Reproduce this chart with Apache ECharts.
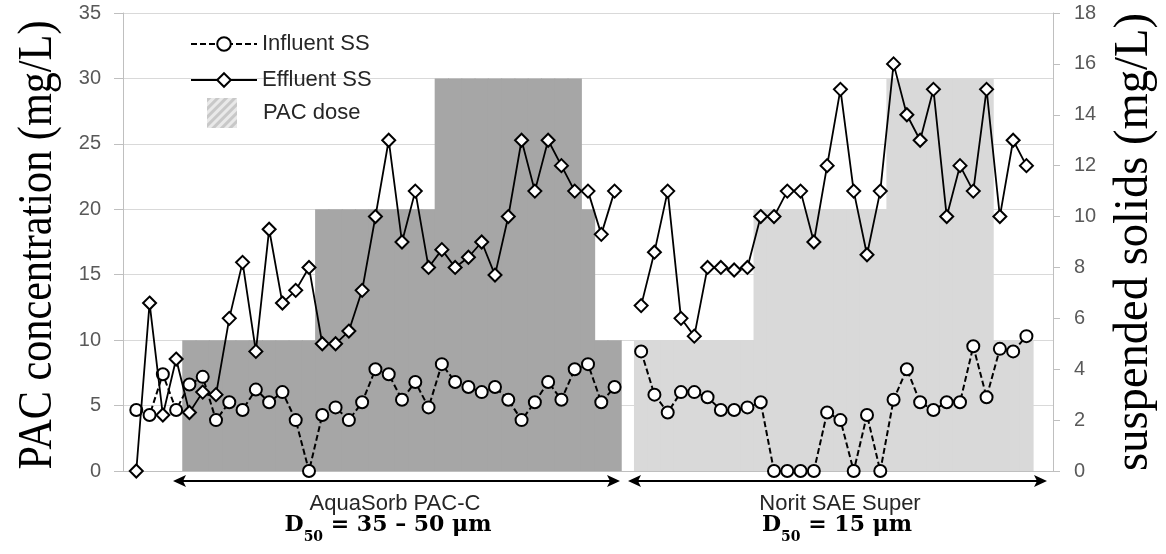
<!DOCTYPE html>
<html>
<head>
<meta charset="utf-8">
<script src="https://cdn.jsdelivr.net/npm/echarts@6/dist/echarts.min.js"></script>
<style>
html,body{margin:0;padding:0;background:#fff;}
#chart{width:1166px;height:554px;}
</style>
</head>
<body>
<div id="chart"></div>
<script>
// ---- data (one entry per sample, in time order; null = no sample) ----
const influentSS = [2.4,2.2,3.8,2.4,3.4,3.7,2.0,2.7,2.4,3.2,
  2.7,3.1,2.0,0,2.2,2.5,2.0,2.7,4.0,3.8,
  2.8,3.5,2.5,4.2,3.5,3.3,3.1,3.3,2.8,2.0,
  2.7,3.5,2.8,4.0,4.2,2.7,3.3,null,4.7,3.0,
  2.3,3.1,3.1,2.9,2.4,2.4,2.5,2.7,0,0,
  0,0,2.3,2.0,0,2.2,0,2.8,4.0,2.7,
  2.4,2.7,2.7,4.9,2.9,4.8,4.7,5.3];
const effluentSS = [0,6.6,2.2,4.4,2.3,3.1,3.0,6.0,8.2,4.7,
  9.5,6.6,7.1,8.0,5.0,5.0,5.5,7.1,10,13,
  9,11,8,8.7,8,8.4,9,7.7,10,13,
  11,13,12,11,11,9.3,11,null,6.5,8.6,
  11,6.0,5.3,8,8,7.9,8,10,10,11,
  11,9,12,15,11,8.5,11,16,14,13,
  15,10,12,11,15,10,13,12];
const doseAquaSorb = [null,null,null,null,10,10,10,10,10,10,
  10,10,10,10,20,20,20,20,20,20,
  20,20,20,30,30,30,30,30,30,30,
  30,30,30,30,20,10,10,null,null,null,
  null,null,null,null,null,null,null,null,null,null,
  null,null,null,null,null,null,null,null,null,null,
  null,null,null,null,null,null,null,null];
const doseNorit = [null,null,null,null,null,null,null,null,null,null,
  null,null,null,null,null,null,null,null,null,null,
  null,null,null,null,null,null,null,null,null,null,
  null,null,null,null,null,null,null,null,10,10,
  10,10,10,10,10,10,10,20,20,20,
  20,20,20,20,20,20,20,30,30,30,
  30,30,30,30,30,10,10,10];
const pacTicks = {min:0, max:35, interval:5};
const ssTicks = {min:0, max:18, interval:2};
const carbonNames = ['AquaSorb PAC-C','Norit SAE Super'];
const carbonD50 = ['35 – 50 μm','15 μm'];

// axis padding slots: one empty slot before, two after the samples
const pad = a => [null].concat(a, [null, null]);
const categories = pad(influentSS.map((_, i) => 'S' + (i + 1))).map(v => v == null ? '' : v);

const chart = echarts.init(document.getElementById('chart'), null, {renderer:'canvas'});

const sans = 'Liberation Sans';
const serif = 'Liberation Serif';

function arrow(x1, x2, y) {
  return [
    {type:'line', shape:{x1:x1+8, y1:y, x2:x2-8, y2:y}, style:{stroke:'#000', lineWidth:2}},
    {type:'polygon', shape:{points:[[x1,y],[x1+13,y-6],[x1+10,y],[x1+13,y+6]]}, style:{fill:'#000'}},
    {type:'polygon', shape:{points:[[x2,y],[x2-13,y-6],[x2-10,y],[x2-13,y+6]]}, style:{fill:'#000'}}
  ];
}
function d50Label(x, y, value) {
  return {type:'text', x:x, y:y, style:{
    text:'{m|D}{s|50}{m| = ' + value + '}',
    rich:{
      m:{fontFamily:'DejaVu Serif', fontWeight:'bold', fontSize:22, lineHeight:26, verticalAlign:'top', fill:'#000'},
      s:{fontFamily:'DejaVu Serif', fontWeight:'bold', fontSize:14, lineHeight:14, verticalAlign:'top', padding:[16,0,0,0], fill:'#000'}
    },
    align:'center', verticalAlign:'top', textAlign:'center', textVerticalAlign:'top'
  }};
}
function centeredText(x, y, text, font, size, color) {
  return {type:'text', x:x, y:y, style:{text:text, fontFamily:font, fontSize:size, fill:color,
    align:'center', verticalAlign:'middle', textAlign:'center', textVerticalAlign:'middle'}};
}

const option = {
  animation:false,
  backgroundColor:'#fff',
  grid:{left:123, right:113, top:13, bottom:83, containLabel:false, outerBoundsMode:'none'},
  legend:[
    {data:['Influent SS','Effluent SS'], orient:'vertical', left:185, top:28,
     itemWidth:66, itemHeight:17, itemGap:14, selectedMode:false,
     textStyle:{fontSize:22, fontFamily:sans, color:'#262626'}},
    {data:[{name:'PAC dose', icon:'path://M0 0H10V10H0Z',
       itemStyle:{color:'#C8C8C8', decal:{symbol:'rect', dashArrayX:[1,0], dashArrayY:[3,3], rotation:-Math.PI/4, color:'rgba(255,255,255,0.6)'}}}],
     orient:'vertical', left:202, top:93, itemWidth:72, itemHeight:30, selectedMode:false,
     textStyle:{fontSize:22, fontFamily:sans, color:'#262626'}}
  ],
  xAxis:{type:'category', data:categories, boundaryGap:false,
    axisLine:{show:true, lineStyle:{color:'#BFBFBF', width:1}},
    axisTick:{show:false}, axisLabel:{show:false}, splitLine:{show:false}},
  yAxis:[
    {type:'value', position:'left', min:pacTicks.min, max:pacTicks.max, interval:pacTicks.interval,
     axisLine:{show:true, lineStyle:{color:'#BFBFBF'}},
     axisTick:{show:true, length:9, lineStyle:{color:'#BFBFBF'}},
     axisLabel:{color:'#595959', fontSize:20, fontFamily:sans, margin:22},
     splitLine:{show:true, lineStyle:{color:'#D9D9D9', width:1}}},
    {type:'value', position:'right', min:ssTicks.min, max:ssTicks.max, interval:ssTicks.interval,
     axisLine:{show:true, lineStyle:{color:'#BFBFBF'}},
     axisTick:{show:true, length:7, lineStyle:{color:'#BFBFBF'}},
     axisLabel:{color:'#595959', fontSize:20, fontFamily:sans, margin:21},
     splitLine:{show:false}}
  ],
  series:[
    {name:'PAC dose', type:'bar', yAxisIndex:0, data:pad(doseAquaSorb), barWidth:'108%', barGap:'-100%',
     itemStyle:{color:'#A6A6A6'}, z:1},
    {name:'PAC dose', type:'bar', yAxisIndex:0, data:pad(doseNorit), barWidth:'108%', barGap:'-100%',
     itemStyle:{color:'#D9D9D9'}, z:1},
    {name:'Influent SS', type:'line', yAxisIndex:1, data:pad(influentSS), connectNulls:false,
     symbol:'circle', symbolSize:12, showAllSymbol:true,
     lineStyle:{color:'#000', width:2, type:[6,3]},
     itemStyle:{color:'#fff', borderColor:'#000', borderWidth:2}, z:3},
    {name:'Effluent SS', type:'line', yAxisIndex:1, data:pad(effluentSS), connectNulls:false,
     symbol:'diamond', symbolSize:13, showAllSymbol:true,
     lineStyle:{color:'#000', width:1.8},
     itemStyle:{color:'#fff', borderColor:'#000', borderWidth:2}, z:4}
  ],
  graphic:[
    {type:'text', x:38, y:245, rotation:Math.PI/2, scaleX:0.88, style:{
      text:'PAC concentration (mg/L)', fontFamily:serif, fontSize:48, fill:'#000',
      align:'center', verticalAlign:'middle', textAlign:'center', textVerticalAlign:'middle'}},
    {type:'text', x:1134, y:242, rotation:Math.PI/2, scaleX:0.97, style:{
      text:'suspended solids (mg/L)', fontFamily:serif, fontSize:48, fill:'#000',
      align:'center', verticalAlign:'middle', textAlign:'center', textVerticalAlign:'middle'}},
    ...arrow(173, 620, 481),
    ...arrow(628, 1047, 481),
    centeredText(395, 504, carbonNames[0], sans, 22, '#262626'),
    centeredText(840, 504, carbonNames[1], sans, 22, '#262626'),
    d50Label(388, 514, carbonD50[0]),
    d50Label(837, 514, carbonD50[1])
  ]
};
chart.setOption(option);
</script>
</body>
</html>
